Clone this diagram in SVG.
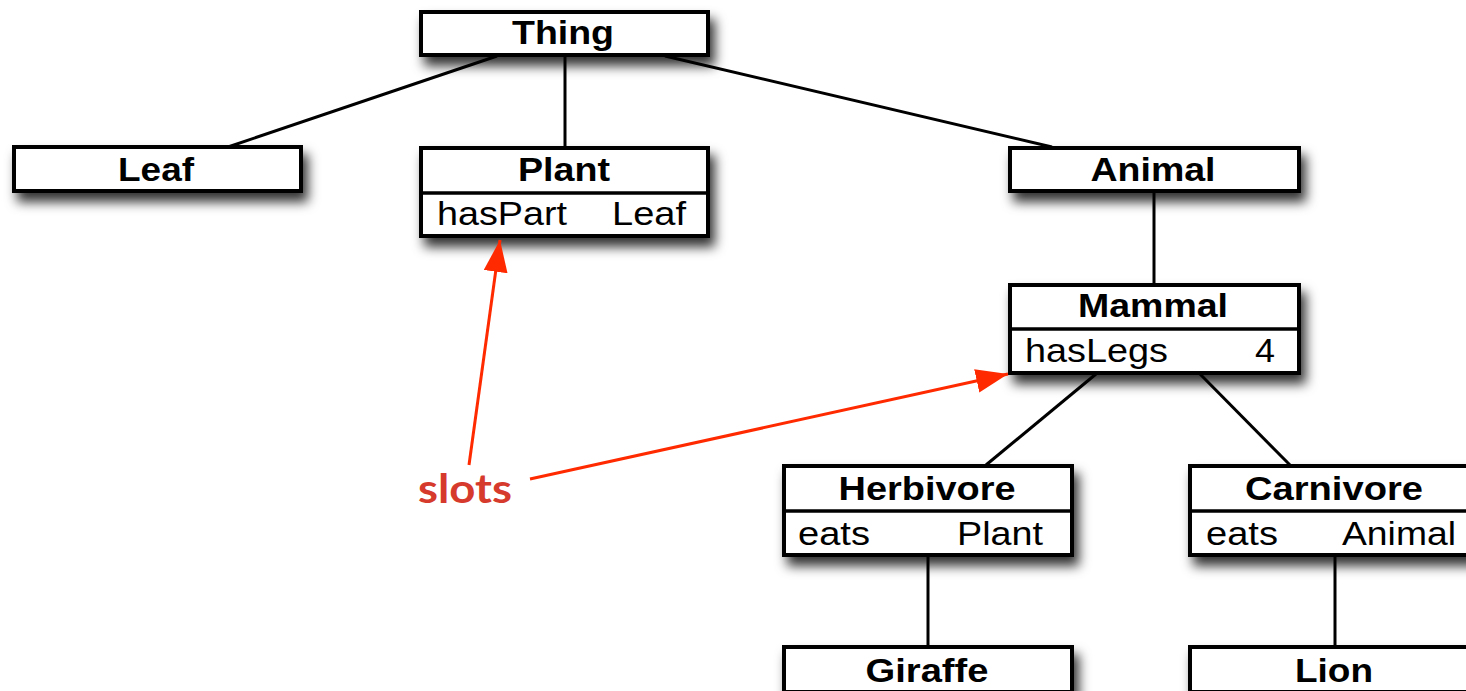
<svg xmlns="http://www.w3.org/2000/svg" width="1466" height="691" viewBox="0 0 1466 691">
  <defs>
    <filter id="shadow" x="-15%" y="-40%" width="135%" height="200%">
      <feDropShadow dx="5" dy="9" stdDeviation="6" flood-color="#000" flood-opacity="0.8"/>
    </filter>
    <marker id="redhead" markerUnits="userSpaceOnUse" markerWidth="34" markerHeight="26" refX="32" refY="12" orient="auto">
      <path d="M0,0 L32,12 L0,24 Z" fill="#ff2a00"/>
    </marker>
  </defs>
  <style>
    .box { fill: #fff; stroke: #000; stroke-width: 4; filter: url(#shadow); }
    .div { stroke: #000; stroke-width: 3.5; }
    .title { font-family: "Liberation Sans", Arial, sans-serif; font-weight: bold; font-size: 33px; fill: #000; }
    .slot { font-family: "Liberation Sans", Arial, sans-serif; font-size: 34px; fill: #000; }
    .edge { stroke: #000; stroke-width: 3; fill: none; }
    .pointer { stroke: #ff2a00; stroke-width: 3; fill: none; marker-end: url(#redhead); }
    .note { font-family: Lato, "Open Sans", sans-serif; font-weight: bold; font-size: 40px; fill: #d63a2c; }
  </style>

  <rect width="1466" height="691" fill="#fff"/>

  <!-- class hierarchy links -->
  <g id="connectors">
    <line class="edge" x1="497" y1="56" x2="228" y2="147"/>
    <line class="edge" x1="565" y1="56" x2="565" y2="147"/>
    <line class="edge" x1="665" y1="56" x2="1052" y2="147"/>
    <line class="edge" x1="1154" y1="192" x2="1154" y2="284"/>
    <line class="edge" x1="1096" y1="374" x2="986" y2="465"/>
    <line class="edge" x1="1200" y1="374" x2="1290" y2="465"/>
    <line class="edge" x1="928" y1="556" x2="928" y2="646"/>
    <line class="edge" x1="1335" y1="556" x2="1335" y2="646"/>
  </g>

  <g id="node-thing">
    <rect class="box" x="421" y="12" width="287" height="43"/>
    <text class="title" x="563" y="44" text-anchor="middle" textLength="102" lengthAdjust="spacingAndGlyphs">Thing</text>
  </g>

  <g id="node-leaf">
    <rect class="box" x="14" y="147" width="287" height="44"/>
    <text class="title" x="156" y="181" text-anchor="middle" textLength="76" lengthAdjust="spacingAndGlyphs">Leaf</text>
  </g>

  <g id="node-plant">
    <rect class="box" x="421" y="148" width="287" height="88"/>
    <line class="div" x1="421" y1="193" x2="708" y2="193"/>
    <text class="title" x="564" y="181" text-anchor="middle" textLength="92" lengthAdjust="spacingAndGlyphs">Plant</text>
    <text class="slot" x="437" y="225" textLength="130" lengthAdjust="spacingAndGlyphs">hasPart</text>
    <text class="slot" x="612" y="225" textLength="74" lengthAdjust="spacingAndGlyphs">Leaf</text>
  </g>

  <g id="node-animal">
    <rect class="box" x="1010" y="148" width="289" height="43"/>
    <text class="title" x="1153" y="181" text-anchor="middle" textLength="125" lengthAdjust="spacingAndGlyphs">Animal</text>
  </g>

  <g id="node-mammal">
    <rect class="box" x="1010" y="285" width="289" height="88"/>
    <line class="div" x1="1010" y1="329" x2="1299" y2="329"/>
    <text class="title" x="1153" y="317" text-anchor="middle" textLength="150" lengthAdjust="spacingAndGlyphs">Mammal</text>
    <text class="slot" x="1025" y="362" textLength="143" lengthAdjust="spacingAndGlyphs">hasLegs</text>
    <text class="slot" x="1255" y="362" textLength="20" lengthAdjust="spacingAndGlyphs">4</text>
  </g>

  <g id="node-herbivore">
    <rect class="box" x="784" y="466" width="288" height="89"/>
    <line class="div" x1="784" y1="511" x2="1072" y2="511"/>
    <text class="title" x="927" y="500" text-anchor="middle" textLength="177" lengthAdjust="spacingAndGlyphs">Herbivore</text>
    <text class="slot" x="798" y="545" textLength="72" lengthAdjust="spacingAndGlyphs">eats</text>
    <text class="slot" x="957" y="545" textLength="86" lengthAdjust="spacingAndGlyphs">Plant</text>
  </g>

  <g id="node-carnivore">
    <rect class="box" x="1190" y="466" width="288" height="89"/>
    <line class="div" x1="1190" y1="511" x2="1478" y2="511"/>
    <text class="title" x="1334" y="500" text-anchor="middle" textLength="178" lengthAdjust="spacingAndGlyphs">Carnivore</text>
    <text class="slot" x="1206" y="545" textLength="72" lengthAdjust="spacingAndGlyphs">eats</text>
    <text class="slot" x="1342" y="545" textLength="114" lengthAdjust="spacingAndGlyphs">Animal</text>
  </g>

  <g id="node-giraffe">
    <rect class="box" x="784" y="647" width="288" height="45"/>
    <text class="title" x="927" y="682" text-anchor="middle" textLength="123" lengthAdjust="spacingAndGlyphs">Giraffe</text>
  </g>

  <g id="node-lion">
    <rect class="box" x="1190" y="647" width="288" height="45"/>
    <text class="title" x="1334" y="682" text-anchor="middle" textLength="78" lengthAdjust="spacingAndGlyphs">Lion</text>
  </g>

  <!-- annotation pointing at the slot rows -->
  <g id="annotation">
    <text class="note" x="418" y="503" textLength="94" lengthAdjust="spacingAndGlyphs">slots</text>
    <line class="pointer" x1="469" y1="465" x2="500" y2="240"/>
    <line class="pointer" x1="530" y1="479" x2="1008" y2="374"/>
  </g>
</svg>
